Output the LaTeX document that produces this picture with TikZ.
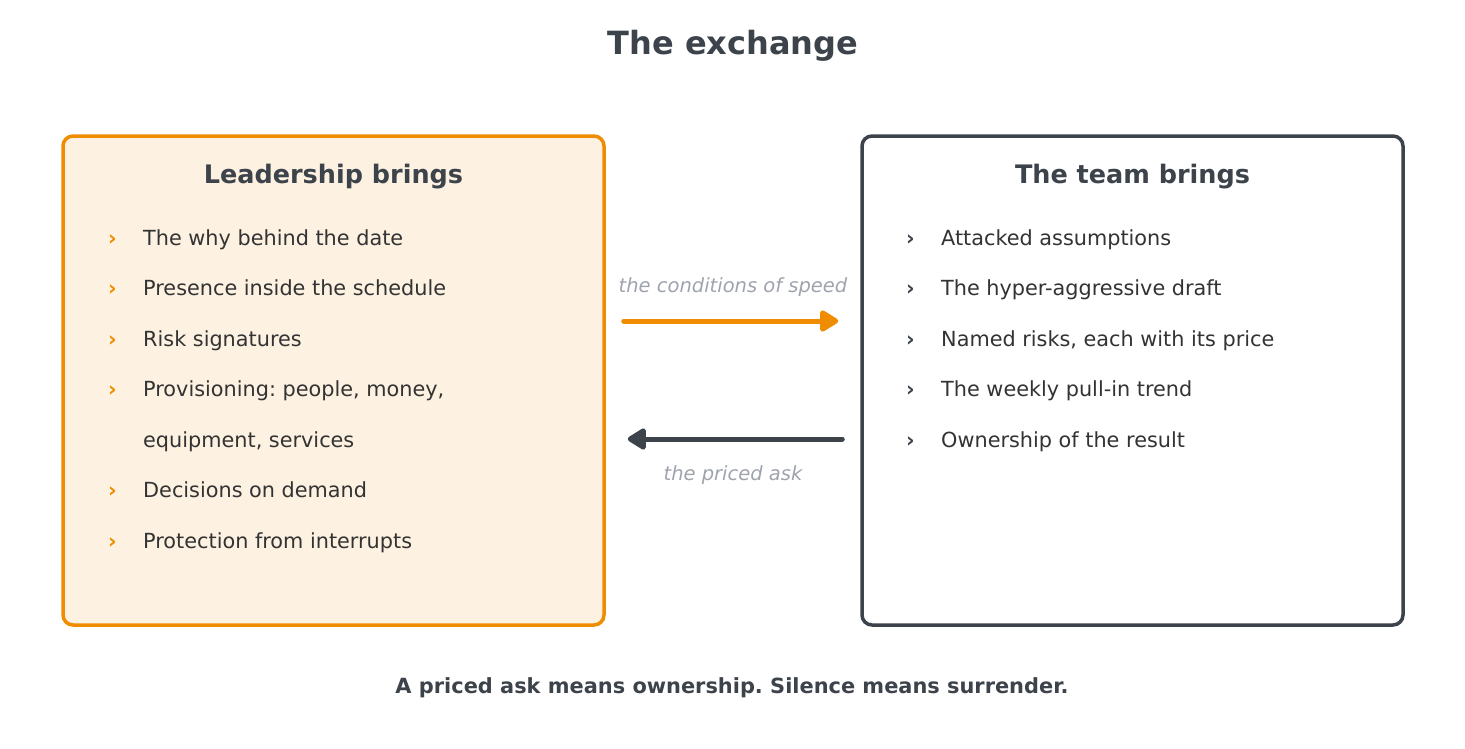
\documentclass[tikz,border=0pt]{standalone}
\usepackage{fontspec}
\setmainfont{DejaVu Sans}
\usetikzlibrary{arrows.meta}
\frenchspacing
\definecolor{orng}{HTML}{F08C00}
\definecolor{slate}{HTML}{3D434B}
\definecolor{ink}{HTML}{333333}
\definecolor{mute}{HTML}{9EA3AD}
\definecolor{cream}{HTML}{FDF1E1}
\tikzset{
  box/.style={rounded corners=10pt, line width=3.5pt, minimum width=541pt, minimum height=489pt},
  item/.style={anchor=base west, inner sep=0pt, text=ink, font=\fontsize{20.8}{24}\selectfont},
  tick/.style={anchor=base west, inner sep=0pt, font=\bfseries\fontsize{20.8}{24}\selectfont},
  head/.style={anchor=base, inner sep=0pt, text=slate, font=\bfseries\fontsize{25.5}{30}\selectfont},
  lbl/.style={anchor=base, inner sep=0pt, text=mute, font=\itshape\fontsize{19.5}{23}\selectfont},
  flow/.style={line width=5pt, line cap=round, ->}
}
\begin{document}
\begin{tikzpicture}[x=1pt, y=-1pt, >={Triangle[scale=1.15, round]}]
\useasboundingbox (0, 0) rectangle (1465, 748);
\node[anchor=base, inner sep=0pt, text=slate, font=\bfseries\fontsize{32}{38}\selectfont] (T) at (733, 54.5) {The exchange};
% the two sides
\node[box, draw=orng, fill=cream] (L) at (333.5, 380.5) {};
\node[box, draw=slate, fill=white] (R) at (1132.5, 380.5) {};
\node[head] (LH) at (333.5, 183) {Leadership brings};
\node[head] (RH) at (1132.5, 183) {The team brings};
\node[tick, text=orng] (LB1) at (108, 245) {›};
\node[tick, text=orng] (LB2) at (108, 295.5) {›};
\node[tick, text=orng] (LB3) at (108, 346) {›};
\node[tick, text=orng] (LB4) at (108, 396.5) {›};
\node[tick, text=orng] (LB6) at (108, 497.5) {›};
\node[tick, text=orng] (LB7) at (108, 548) {›};
\node[item] (L1) at (143, 245) {The why behind the date};
\node[item] (L2) at (143, 295.5) {Presence inside the schedule};
\node[item] (L3) at (143, 346) {Risk signatures};
\node[item] (L4) at (143, 396.5) {Provisioning: people, money,};
\node[item] (L5) at (143, 447) {equipment, services};
\node[item] (L6) at (143, 497.5) {Decisions on demand};
\node[item] (L7) at (143, 548) {Protection from interrupts};
\node[tick, text=slate] (RB1) at (906, 245) {›};
\node[tick, text=slate] (RB2) at (906, 295.5) {›};
\node[tick, text=slate] (RB3) at (906, 346) {›};
\node[tick, text=slate] (RB4) at (906, 396.5) {›};
\node[tick, text=slate] (RB5) at (906, 447) {›};
\node[item] (R1) at (941, 245) {Attacked assumptions};
\node[item] (R2) at (941, 295.5) {The hyper-aggressive draft};
\node[item] (R3) at (941, 346) {Named risks, each with its price};
\node[item] (R4) at (941, 396.5) {The weekly pull-in trend};
\node[item] (R5) at (941, 447) {Ownership of the result};
% what flows between them
\draw[flow, orng, shorten <=18pt, shorten >=22pt] ([yshift=59.5pt]L.east) -- ([yshift=59.5pt]R.west);
\draw[flow, slate, shorten <=18pt, shorten >=22pt] ([yshift=-58.5pt]R.west) -- ([yshift=-58.5pt]L.east);
\node[lbl] (A) at (733, 292) {the conditions of speed};
\node[lbl] (B) at (733, 480) {the priced ask};
\node[anchor=base, inner sep=0pt, text=slate, font=\bfseries\fontsize{20.9}{24}\selectfont] (F) at (732, 693.5) {A priced ask means ownership. Silence means surrender.};
\end{tikzpicture}
\end{document}
